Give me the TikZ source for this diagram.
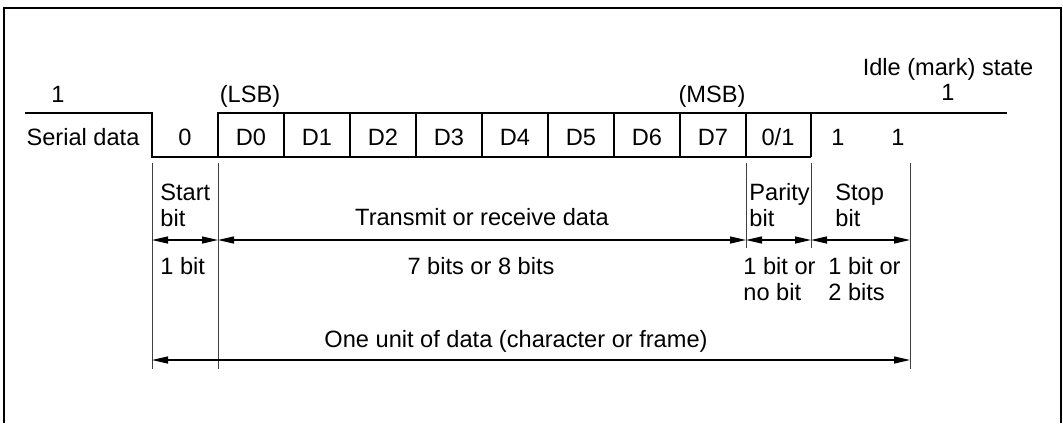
\documentclass[tikz,border=0pt]{standalone}
\usepackage{fontspec}
\setmainfont{Liberation Sans}
\usetikzlibrary{arrows.meta}
\begin{document}
\begin{tikzpicture}[x=0.5pt,y=-0.5pt,
  lbl/.style={inner sep=0pt,anchor=base,font=\fontsize{11.8}{14}\selectfont},
  lbll/.style={lbl,anchor=base west},
  sig/.style={line width=0.75pt},
  frm/.style={line width=0.7pt},
  ext/.style={line width=0.5pt,black!75},
  dim/.style={line width=0.6pt,{Triangle[length=8pt,width=3.5pt]}-{Triangle[length=8pt,width=3.5pt]}}]
\useasboundingbox (0,0) rectangle (1063,423);
% frame
\draw[frm] (4,423) -- (4,8) -- (1061,8) -- (1061,423);
% waveform
\coordinate (h0) at (25,113);
\coordinate (fallT) at (152,113);
\coordinate (fallB) at (152,157);
\coordinate (endB) at (811,157);
\coordinate (riseB) at (218,157);
\coordinate (riseT) at (218,113);
\coordinate (h1) at (1007,113);
\draw[sig] (h0) -- (fallT) -- (fallB) -- (endB);
\draw[sig] (riseB) -- (riseT) -- (h1);
\foreach \x in {284,350,416,482,548,614,680,746,811}
  \draw[sig] (\x,113) -- (\x,157);
% top labels
\node[lbl] (one) at (58,102) {1};
\node[lbl] (lsb) at (250,102) {(LSB)};
\node[lbl] (msb) at (712,102) {(MSB)};
\node[lbl] (idle) at (948,75) {Idle (mark) state};
\node[lbl] (idle1) at (948,100) {1};
% row labels
\node[lbl] (serial) at (83,145) {Serial data};
\node[lbl] (b0) at (185,145) {0};
\node[lbl] (d0) at (251,145) {D0};
\node[lbl] (d1) at (317,145) {D1};
\node[lbl] (d2) at (383,145) {D2};
\node[lbl] (d3) at (449,145) {D3};
\node[lbl] (d4) at (515,145) {D4};
\node[lbl] (d5) at (581,145) {D5};
\node[lbl] (d6) at (647,145) {D6};
\node[lbl] (d7) at (713,145) {D7};
\node[lbl] (par) at (778,145) {0/1};
\node[lbl] (s1) at (838,145) {1};
\node[lbl] (s2) at (898,145) {1};
% extension lines
\coordinate (e1t) at (152,163); \coordinate (e1b) at (152,369);
\coordinate (e2t) at (218,163); \coordinate (e2b) at (218,369);
\coordinate (e3t) at (746,163); \coordinate (e3b) at (746,248);
\coordinate (e4t) at (811,163); \coordinate (e4b) at (811,248);
\coordinate (e5t) at (910,163); \coordinate (e5b) at (910,369);
\draw[ext] (e1t) -- (e1b);
\draw[ext] (e2t) -- (e2b);
\draw[ext] (e3t) -- (e3b);
\draw[ext] (e4t) -- (e4b);
\draw[ext] (e5t) -- (e5b);
% dimension arrows
\coordinate (a1) at (152,240); \coordinate (a2) at (218,240);
\coordinate (a3) at (746,240); \coordinate (a4) at (811,240);
\coordinate (a5) at (910,240);
\coordinate (u1) at (152,360); \coordinate (u2) at (910,360);
\draw[dim] (a1) -- (a2);
\draw[dim] (a2) -- (a3);
\draw[dim] (a3) -- (a4);
\draw[dim] (a4) -- (a5);
\draw[dim] (u1) -- (u2);
% lower labels
\node[lbll] (st1) at (160,200) {Start};
\node[lbll] (st2) at (160,226) {bit};
\node[lbl] (tx) at (482,225) {Transmit or receive data};
\node[lbll] (pa1) at (749,200) {Parity};
\node[lbll] (pa2) at (749,226) {bit};
\node[lbll] (sp1) at (835,200) {Stop};
\node[lbll] (sp2) at (835,226) {bit};
\node[lbll] (w1) at (160,274) {1 bit};
\node[lbl] (w2) at (481,274) {7 bits or 8 bits};
\node[lbll] (w3a) at (743,274) {1 bit or};
\node[lbll] (w3b) at (743,300) {no bit};
\node[lbll] (w4a) at (828,274) {1 bit or};
\node[lbll] (w4b) at (828,300) {2 bits};
\node[lbl] (unit) at (516,347) {One unit of data (character or frame)};
\end{tikzpicture}
\end{document}
